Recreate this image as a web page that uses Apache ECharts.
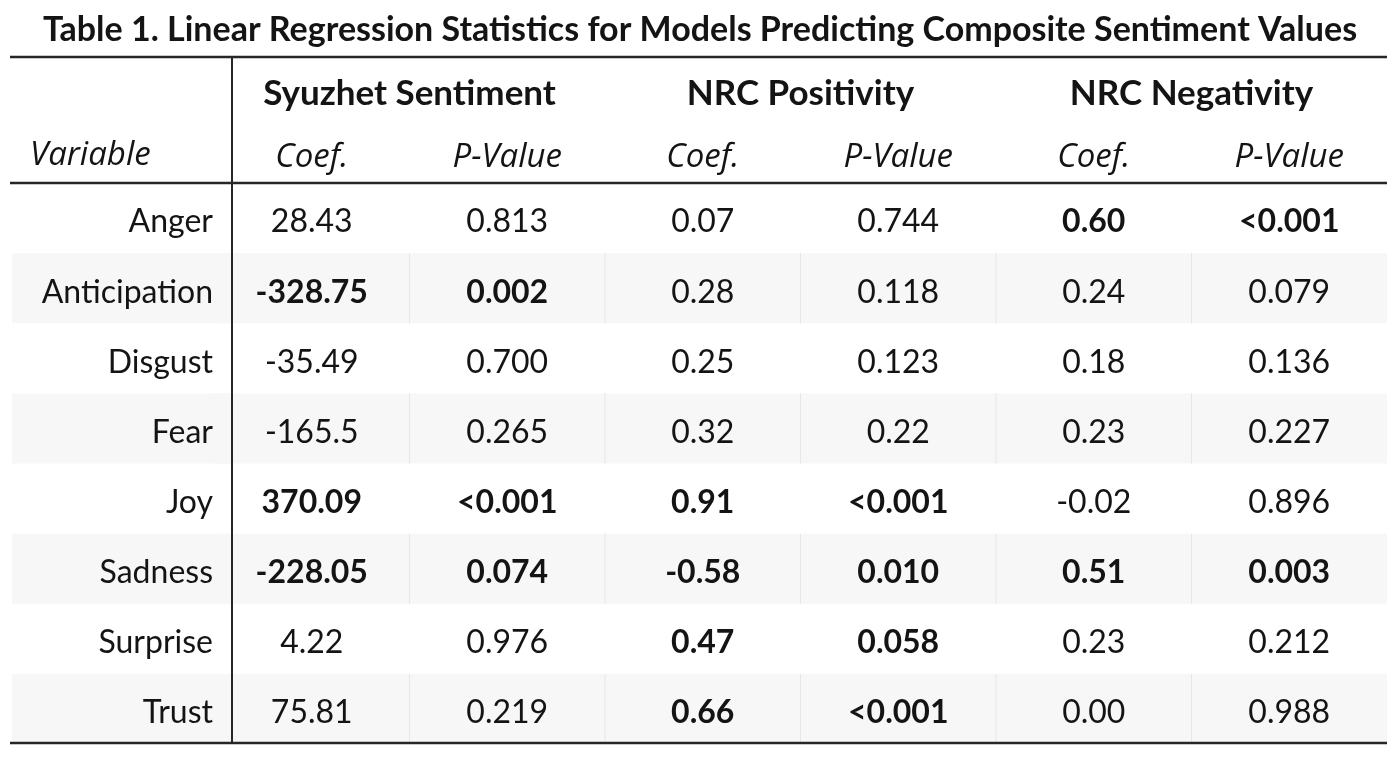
<!DOCTYPE html>
<html><head><meta charset="utf-8">
<script src="https://cdn.jsdelivr.net/npm/echarts@6/dist/echarts.min.js"></script>
<style>html,body{margin:0;padding:0;background:#fff}#c{width:1400px;height:765px}</style>
</head><body><div id="c"></div>
<script>
const title = 'Table 1. Linear Regression Statistics for Models Predicting Composite Sentiment Values';
const models = ['Syuzhet Sentiment', 'NRC Positivity', 'NRC Negativity'];
const subHeaders = ['Coef.', 'P-Value', 'Coef.', 'P-Value', 'Coef.', 'P-Value'];
const variableHeader = 'Variable';
const variables = ['Anger', 'Anticipation', 'Disgust', 'Fear', 'Joy', 'Sadness', 'Surprise', 'Trust'];
const syuzhetCoef = ['28.43', '-328.75', '-35.49', '-165.5', '370.09', '-228.05', '4.22', '75.81'];
const syuzhetP    = ['0.813', '0.002', '0.700', '0.265', '<0.001', '0.074', '0.976', '0.219'];
const syuzhetBold = [0, 1, 0, 0, 1, 1, 0, 0];
const posCoef = ['0.07', '0.28', '0.25', '0.32', '0.91', '-0.58', '0.47', '0.66'];
const posP    = ['0.744', '0.118', '0.123', '0.22', '<0.001', '0.010', '0.058', '<0.001'];
const posBold = [0, 0, 0, 0, 1, 1, 1, 1];
const negCoef = ['0.60', '0.24', '0.18', '0.23', '-0.02', '0.51', '0.23', '0.00'];
const negP    = ['<0.001', '0.079', '0.136', '0.227', '0.896', '0.003', '0.212', '0.988'];
const negBold = [1, 0, 0, 0, 0, 1, 0, 0];

const FONT = 'Lato, "Open Sans", sans-serif';
const IFONT = '"Open Sans", Lato, sans-serif';
const TXT = '#141414';
const STRIPE = '#f7f7f7';

const modelCols = [[syuzhetCoef, syuzhetP, syuzhetBold], [posCoef, posP, posBold], [negCoef, negP, negBold]];
const cells = [];
modelCols.forEach(function (m, mi) {
  variables.forEach(function (v, r) {
    cells.push({ value: [mi * 2, r], text: m[0][r], bold: m[2][r] });
    cells.push({ value: [mi * 2 + 1, r], text: m[1][r], bold: m[2][r] });
  });
});
const labelCells = variables.map(function (v, r) { return { value: [0, r], text: v }; });

function renderCell(params, api) {
  const d = cells[params.dataIndex];
  const col = api.value(0), row = api.value(1);
  const c = api.coord([col, row]);
  const s = api.size([1, 1]);
  const ch = [];
  if (row % 2 === 1) {
    ch.push({ type: 'rect', shape: { x: c[0] - s[0] / 2, y: c[1] - s[1] / 2, width: s[0], height: s[1] }, style: { fill: STRIPE } });
    if (col > 0) ch.push({ type: 'line', shape: { x1: c[0] - s[0] / 2, y1: c[1] - s[1] / 2, x2: c[0] - s[0] / 2, y2: c[1] + s[1] / 2 }, style: { stroke: '#e6e6e6', lineWidth: 1 } });
  }
  ch.push({ type: 'text', x: c[0], y: c[1] + 4, style: { text: d.text, fontSize: 32, fontFamily: FONT, fontWeight: d.bold ? 'bold' : 'normal', fill: TXT, align: 'center', verticalAlign: 'middle' } });
  return { type: 'group', children: ch };
}
function renderLabel(params, api) {
  const d = labelCells[params.dataIndex];
  const row = api.value(1);
  const c = api.coord([0, row]);
  const s = api.size([1, 1]);
  const ch = [];
  if (row % 2 === 1) ch.push({ type: 'rect', shape: { x: c[0] - s[0] / 2, y: c[1] - s[1] / 2, width: s[0], height: s[1] }, style: { fill: STRIPE } });
  ch.push({ type: 'text', x: c[0] + s[0] / 2 - 19, y: c[1] + 4, style: { text: d.text, fontSize: 32, fontFamily: FONT, fill: TXT, align: 'right', verticalAlign: 'middle' } });
  return { type: 'group', children: ch };
}

const chart = echarts.init(document.getElementById('c'), null, { renderer: 'canvas' });
const rule = function (x1, y1, x2, y2, w) {
  return { type: 'line', z: 100, shape: { x1: x1, y1: y1, x2: x2, y2: y2 }, style: { stroke: '#262626', lineWidth: w } };
};
chart.setOption({
  animation: false,
  backgroundColor: '#fff',
  title: { text: title, left: 'center', top: 8, textStyle: { fontFamily: FONT, fontWeight: 'bold', fontSize: 34, color: TXT } },
  grid: [
    { left: 12, right: 1168, top: 183, bottom: 21 },
    { left: 214, right: 13, top: 183, bottom: 21 }
  ],
  xAxis: [
    { gridIndex: 0, type: 'category', data: [variableHeader], show: false },
    { gridIndex: 1, type: 'category', data: subHeaders, position: 'top', axisLine: { show: false }, axisTick: { show: false },
      axisLabel: { margin: 9, fontFamily: IFONT, fontStyle: 'italic', fontSize: 33, color: TXT } },
    { gridIndex: 1, type: 'category', data: models, position: 'top', axisLine: { show: false }, axisTick: { show: false },
      axisLabel: { margin: 72, fontFamily: FONT, fontWeight: 'bold', fontSize: 35, color: TXT } }
  ],
  yAxis: [
    { gridIndex: 0, type: 'category', data: variables, inverse: true, show: false },
    { gridIndex: 1, type: 'category', data: variables, inverse: true, show: false }
  ],
  series: [
    { type: 'custom', xAxisIndex: 0, yAxisIndex: 0, renderItem: renderLabel, data: labelCells.map(function (d) { return d.value; }) },
    { type: 'custom', xAxisIndex: 1, yAxisIndex: 1, renderItem: renderCell, data: cells.map(function (d) { return d.value; }) }
  ],
  graphic: [
    { type: 'text', z: 100, left: 30, top: 139, style: { text: variableHeader, fontFamily: IFONT, fontStyle: 'italic', fontSize: 33, fill: TXT } },
    rule(10, 57, 1387, 57, 2.5),
    rule(10, 183, 1387, 183, 2.5),
    rule(10, 743, 1387, 743, 2.5),
    rule(232, 57, 232, 743, 2)
  ]
});
</script></body></html>
